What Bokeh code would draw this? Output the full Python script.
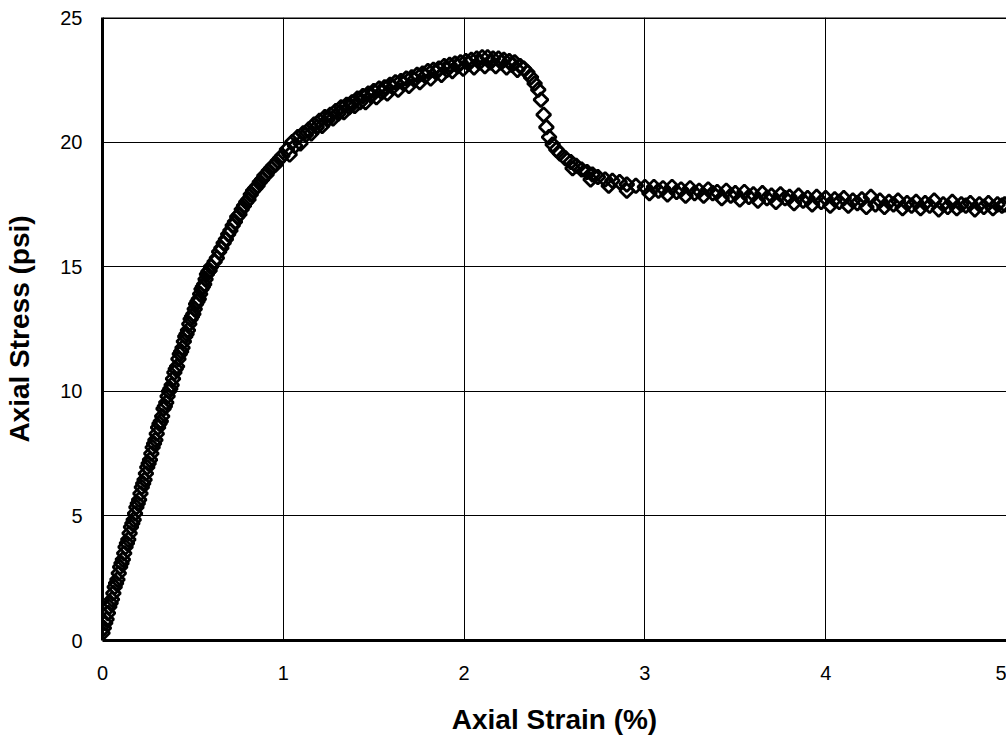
import math
from bokeh.plotting import figure
from bokeh.models import Range1d, FixedTicker, Span
from bokeh.embed import file_html
from bokeh.resources import INLINE

# ---- data (strain %, stress psi) ----
strain_rise = [0.00, 0.015, 0.03, 0.045, 0.06, 0.075, 0.09, 0.105, 0.12, 0.135, 0.15,
               0.165, 0.18, 0.195, 0.21, 0.225, 0.24, 0.255, 0.27, 0.285, 0.30, 0.315,
               0.33, 0.345, 0.36, 0.375, 0.39, 0.405, 0.42, 0.435, 0.45, 0.465, 0.48,
               0.495, 0.51, 0.525, 0.54, 0.555, 0.57, 0.585, 0.60]
stress_rise = [0.3, 0.7, 1.1, 1.5, 1.9, 2.3, 2.7, 3.1, 3.5, 3.9, 4.3,
               4.7, 5.1, 5.5, 5.9, 6.3, 6.7, 7.1, 7.5, 7.9, 8.3, 8.7,
               9.0, 9.4, 9.8, 10.1, 10.5, 10.9, 11.3, 11.6, 12.0, 12.3, 12.7,
               13.0, 13.3, 13.6, 13.9, 14.2, 14.5, 14.8, 15.0]

strain_rise_b = [0.0075, 0.0225, 0.0375, 0.0525, 0.0675, 0.0825, 0.0975, 0.1125, 0.1275,
                 0.1425, 0.1575, 0.1725, 0.1875, 0.2025, 0.2175, 0.2325, 0.2475, 0.2625,
                 0.2775, 0.2925, 0.3075, 0.3225, 0.3375, 0.3525, 0.3675, 0.3825, 0.3975,
                 0.4125, 0.4275, 0.4425, 0.4575, 0.4725, 0.4875, 0.5025, 0.5175, 0.5325,
                 0.5475, 0.5625, 0.5775, 0.5925]
stress_rise_b = [0.5, 0.85, 1.35, 1.65, 2.15, 2.45, 2.95, 3.25, 3.75, 4.05, 4.55,
                 4.85, 5.35, 5.65, 6.15, 6.45, 6.95, 7.25, 7.75, 8.05, 8.55, 8.8,
                 9.3, 9.55, 10.0, 10.25, 10.75, 11.0, 11.5, 11.75, 12.2, 12.45, 12.9,
                 13.1, 13.5, 13.7, 14.1, 14.3, 14.7, 14.85]

strain_knee = [0.62, 0.645, 0.67, 0.695, 0.72, 0.745, 0.77, 0.795, 0.82, 0.845,
               0.87, 0.895, 0.92, 0.945, 0.97, 0.995]
stress_knee = [15.2, 15.6, 15.95, 16.3, 16.65, 17.0, 17.3, 17.6, 17.9, 18.15,
               18.4, 18.65, 18.85, 19.05, 19.25, 19.45]

strain_knee_b = [0.6325, 0.6575, 0.6825, 0.7075, 0.7325, 0.7575, 0.7825, 0.8075,
                 0.8325, 0.8575, 0.8825, 0.9075, 0.9325, 0.9575, 0.9825]
stress_knee_b = [15.35, 15.75, 16.1, 16.45, 16.8, 17.1, 17.45, 17.7, 18.05, 18.25,
                 18.5, 18.7, 18.95, 19.1, 19.35]

strain_harden = [1.02, 1.05, 1.08, 1.11, 1.14, 1.17, 1.20, 1.23, 1.26, 1.29, 1.32,
                 1.35, 1.38, 1.41, 1.44, 1.47, 1.50, 1.53, 1.56, 1.59, 1.62, 1.65,
                 1.68, 1.71, 1.74, 1.77, 1.80, 1.83, 1.86, 1.89, 1.92, 1.95, 1.98]
stress_harden = [19.7, 20.0, 20.2, 20.35, 20.5, 20.7, 20.85, 21.0, 21.1, 21.25, 21.4,
                 21.5, 21.6, 21.75, 21.85, 21.95, 22.05, 22.15, 22.2, 22.3, 22.4, 22.45,
                 22.55, 22.6, 22.7, 22.75, 22.85, 22.9, 22.95, 23.05, 23.1, 23.15, 23.2]

strain_harden_b = [1.035, 1.095, 1.155, 1.215, 1.275, 1.335, 1.395, 1.455, 1.515,
                   1.575, 1.635, 1.695, 1.755, 1.815, 1.875, 1.935, 1.995, 2.055,
                   2.115, 2.175, 2.235, 2.295]
stress_harden_b = [19.5, 19.95, 20.35, 20.65, 20.95, 21.2, 21.45, 21.6, 21.8,
                   21.95, 22.1, 22.25, 22.4, 22.55, 22.7, 22.85, 22.95, 23.0,
                   23.05, 23.05, 23.0, 22.9]

strain_harden_c = [1.065, 1.125, 1.185, 1.245, 1.305, 1.365, 1.425, 1.485, 1.545,
                   1.605, 1.665, 1.725, 1.785, 1.845, 1.905, 1.965, 2.025, 2.085,
                   2.145, 2.205, 2.265]
stress_harden_c = [19.85, 20.3, 20.6, 20.9, 21.15, 21.4, 21.6, 21.85, 22.0,
                   22.2, 22.35, 22.5, 22.65, 22.8, 22.9, 23.05, 23.15, 23.2,
                   23.2, 23.2, 23.1]

strain_peak = [2.01, 2.04, 2.07, 2.10, 2.13, 2.16, 2.19, 2.22, 2.25, 2.28, 2.31,
               2.33, 2.35, 2.37, 2.39, 2.41, 2.425, 2.44, 2.455, 2.47, 2.49, 2.51,
               2.53, 2.56, 2.59, 2.62, 2.65, 2.68, 2.71, 2.74, 2.78, 2.82, 2.86,
               2.90, 2.95, 3.00]
stress_peak = [23.25, 23.3, 23.35, 23.4, 23.4, 23.35, 23.35, 23.3, 23.25, 23.2, 23.05,
               22.95, 22.8, 22.6, 22.35, 22.1, 21.7, 21.1, 20.6, 20.2, 19.9, 19.7,
               19.55, 19.35, 19.2, 19.05, 18.9, 18.8, 18.7, 18.6, 18.5, 18.45, 18.4,
               18.3, 18.25, 18.2]

strain_soft_b = [2.60, 2.70, 2.80, 2.90]
stress_soft_b = [18.95, 18.5, 18.25, 18.05]

strain_tail = [3.05, 3.10, 3.15, 3.20, 3.25, 3.30, 3.35, 3.40, 3.45, 3.50, 3.55, 3.60,
               3.65, 3.70, 3.75, 3.80, 3.85, 3.90, 3.95, 4.00, 4.05, 4.10, 4.15, 4.20,
               4.25, 4.30, 4.35, 4.40, 4.45, 4.50, 4.55, 4.60, 4.65, 4.70, 4.75, 4.80,
               4.85, 4.90, 4.95, 4.99]
stress_tail = [18.2, 18.15, 18.2, 18.1, 18.15, 18.05, 18.1, 18.0, 18.05, 17.95, 18.0, 17.9,
               17.95, 17.85, 17.9, 17.8, 17.85, 17.75, 17.8, 17.75, 17.7, 17.75, 17.65, 17.7,
               17.8, 17.65, 17.6, 17.65, 17.55, 17.6, 17.55, 17.65, 17.5, 17.6, 17.5, 17.55,
               17.5, 17.55, 17.5, 17.5]

strain_tail_b = [3.025, 3.125, 3.225, 3.325, 3.425, 3.525, 3.625, 3.725, 3.825, 3.925,
                 4.025, 4.125, 4.225, 4.325, 4.425, 4.525, 4.625, 4.725, 4.825, 4.925]
stress_tail_b = [17.95, 17.9, 17.85, 17.85, 17.75, 17.7, 17.65, 17.6, 17.55, 17.5,
                 17.45, 17.45, 17.4, 17.4, 17.35, 17.35, 17.3, 17.35, 17.3, 17.35]

strain_tail_c = [3.075, 3.175, 3.275, 3.375, 3.475, 3.575, 3.675, 3.775, 3.875, 3.975,
                 4.075, 4.175, 4.275, 4.375, 4.475, 4.575, 4.675, 4.775, 4.875, 4.975]
stress_tail_c = [18.05, 18.0, 17.95, 17.95, 17.85, 17.8, 17.75, 17.75, 17.65, 17.6,
                 17.6, 17.55, 17.5, 17.5, 17.45, 17.45, 17.4, 17.45, 17.4, 17.45]

x_ticks = [0, 1, 2, 3, 4, 5]
y_ticks = [0, 5, 10, 15, 20, 25]

strain = (strain_rise + strain_rise_b + strain_knee + strain_knee_b + strain_harden
          + strain_harden_b + strain_harden_c + strain_peak + strain_soft_b
          + strain_tail + strain_tail_b + strain_tail_c)
stress = (stress_rise + stress_rise_b + stress_knee + stress_knee_b + stress_harden
          + stress_harden_b + stress_harden_c + stress_peak + stress_soft_b
          + stress_tail + stress_tail_b + stress_tail_c)

FONT = "Liberation Sans"

p = figure(width=1006, height=740, output_backend="svg", toolbar_location=None,
           x_range=Range1d(0, 5.0), y_range=Range1d(0, 25),
           min_border_left=102, min_border_right=0, min_border_top=17,
           min_border_bottom=100)
p.outline_line_color = None
p.background_fill_color = "white"
p.border_fill_color = "white"

for ax in (p.xaxis[0], p.yaxis[0]):
    ax.axis_line_color = "black"
    ax.axis_line_width = 3
    ax.major_tick_line_color = None
    ax.minor_tick_line_color = None
    ax.major_label_text_font = FONT
    ax.major_label_text_font_size = "20px"
    ax.major_label_text_color = "black"
    ax.axis_label_text_font = FONT
    ax.axis_label_text_font_size = "28px"
    ax.axis_label_text_font_style = "bold"
    ax.axis_label_text_color = "black"

p.xaxis.ticker = FixedTicker(ticks=x_ticks)
p.yaxis.ticker = FixedTicker(ticks=y_ticks)
p.xaxis.axis_label = "Axial Strain (%)"
p.yaxis.axis_label = "Axial Stress (psi)"
p.xaxis.major_label_standoff = 19
p.yaxis.major_label_standoff = 14
p.xaxis.axis_label_standoff = 21
p.yaxis.axis_label_standoff = 22

p.xgrid.ticker = FixedTicker(ticks=x_ticks[1:])
p.ygrid.ticker = FixedTicker(ticks=y_ticks[1:-1])
p.grid.grid_line_color = "black"
p.grid.grid_line_width = 1
p.grid.grid_line_alpha = 1

p.add_layout(Span(location=25, dimension="width", line_color="black", line_width=3))

p.scatter(strain, stress, marker="square", angle=math.pi / 4, size=10,
          fill_alpha=0, line_color="black", line_width=2.8)

open("out.html", "w").write(file_html(p, INLINE))
